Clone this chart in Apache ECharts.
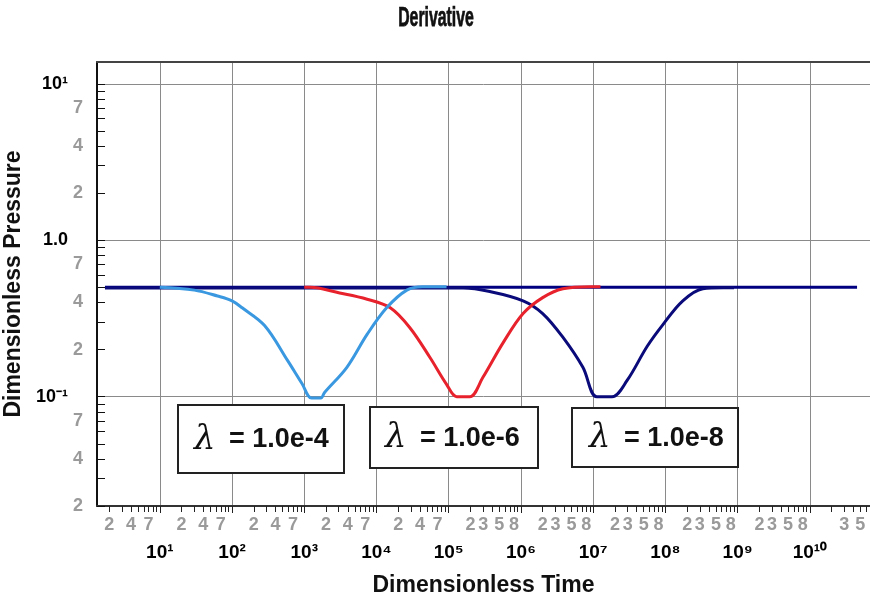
<!DOCTYPE html>
<html>
<head>
<meta charset="utf-8">
<script src="https://cdn.jsdelivr.net/npm/echarts@6/dist/echarts.min.js"></script>
<style>
html,body{margin:0;padding:0;background:#fff;}
#chart{width:870px;height:598px;}
</style>
</head>
<body>
<div id="chart"></div>
<script>
// ---- data ----
const blueT = [10, 30, 63, 100, 138, 282, 589, 933, 1260, 1700, 1900, 3890, 7410, 13800, 26300, 43600, 93300];
const blueP = [0.5, 0.48, 0.44, 0.41, 0.37, 0.285, 0.17, 0.121, 0.098, 0.098, 0.106, 0.154, 0.25, 0.37, 0.48, 0.505, 0.505];

const redT = [1000, 1200, 3090, 7410, 15500, 28800, 55000, 93300, 129000, 195000, 295000, 562000, 1.07e6, 2.0e6, 3.8e6, 9.1e6, 1.26e7];
const redP = [0.5, 0.5, 0.46, 0.42, 0.37, 0.277, 0.178, 0.12, 0.1, 0.1, 0.132, 0.22, 0.34, 0.43, 0.49, 0.505, 0.505];

const navyT = [1.74, 1.58e5, 3.7e5, 1.07e6, 2.0e6, 3.8e6, 7.2e6, 1.12e7, 1.82e7, 2.95e7, 5.6e7, 9.3e7, 1.74e8, 3.3e8, 6.3e8, 8.9e8];
const navyP = [0.495, 0.495, 0.47, 0.41, 0.34, 0.24, 0.154, 0.1, 0.1, 0.127, 0.21, 0.29, 0.41, 0.49, 0.497, 0.497];

const refT = [1.74, 4.5e10];
const refP = [0.5, 0.5];

const boxLabels = ['1.0e-4', '1.0e-6', '1.0e-8'];

// tick / label values
const xMajorTicks = [1e1, 1e2, 1e3, 1e4, 1e5, 1e6, 1e7, 1e8, 1e9, 1e10];
const xMajorLabels = ['10¹', '10²', '10³', '10⁴', '10⁵', '10⁶', '10⁷', '10⁸', '10⁹', '10¹⁰'];
const xMinorLabelValues = [2, 4, 7, 20, 40, 70, 200, 400, 700, 2e3, 4e3, 7e3, 2e4, 4e4, 7e4,
  2e5, 3e5, 5e5, 8e5, 2e6, 3e6, 5e6, 8e6, 2e7, 3e7, 5e7, 8e7, 2e8, 3e8, 5e8, 8e8,
  2e9, 3e9, 5e9, 8e9, 3e10, 5e10];
const yMajorTicks = [0.1, 1, 10];
const yMajorLabels = ['10⁻¹', '1.0', '10¹'];
const yMinorLabelValues = [0.02, 0.04, 0.07, 0.2, 0.4, 0.7, 2, 4, 7];

const xMin = 1.35, xMax = 6.8e10;
const yMin = 0.02, yMax = 13.8;

// minor tick positions (2..9 of each decade)
function minorTicks(fromExp, toExp, lo, hi) {
  const out = [];
  for (let e = fromExp; e <= toExp; e++) {
    for (let m = 1; m <= 9; m++) {
      const v = m * Math.pow(10, e);
      if (v >= lo * 0.999 && v <= hi * 1.001) out.push(v);
    }
  }
  return out;
}
const xMinorTicks = minorTicks(0, 10, xMin, xMax);
const yMinorTicks = minorTicks(-2, 1, yMin, yMax);

function mantissa(v) {
  const e = Math.floor(Math.log10(v) + 1e-9);
  return String(Math.round(v / Math.pow(10, e)));
}
function labelFor(values, labels) {
  return function (v) {
    for (let i = 0; i < values.length; i++) {
      if (Math.abs(Math.log10(v) - Math.log10(values[i])) < 1e-6) return labels[i];
    }
    return '';
  };
}
function zip(a, b) { return a.map((t, i) => [t, b[i]]); }

const FONT = "'Liberation Sans', Arial, sans-serif";
const GRID = '#8a8a8a';
const MINOR_COL = '#9a9a9a';

const chart = echarts.init(document.getElementById('chart'), null, {renderer: 'canvas'});

const boxes = [
  {x: 178, y: 405, w: 166, h: 68, tx: 194},
  {x: 370, y: 407, w: 168, h: 61, tx: 385},
  {x: 572, y: 408, w: 166, h: 59, tx: 589}
];
const graphics = [{
  type: 'text', z: 101, x: 436, y: 18, scaleX: 0.72, scaleY: 1.25,
  style: {text: 'Derivative', fill: '#111', font: 'bold 22px ' + FONT,
    textAlign: 'center', textVerticalAlign: 'middle', stroke: '#111', lineWidth: 0.6}
}];
boxes.forEach((b, i) => {
  graphics.push({
    type: 'rect', z: 100,
    shape: {x: b.x, y: b.y, width: b.w, height: b.h},
    style: {fill: '#fff', stroke: '#222', lineWidth: 2}
  });
  graphics.push({
    type: 'text', z: 101,
    x: b.tx, y: b.y + b.h / 2 + 1,
    style: {text: 'λ', fill: '#111', font: "italic 34px 'DejaVu Serif', serif", textVerticalAlign: 'middle'}
  });
  graphics.push({
    type: 'text', z: 101,
    x: b.tx + 35, y: b.y + b.h / 2 + 1,
    style: {text: '= ' + boxLabels[i], fill: '#111', font: "bold 27px " + FONT, textVerticalAlign: 'middle'}
  });
});

const lineSeries = (name, T, P, color, width, z) => ({
  name, type: 'line', data: zip(T, P), xAxisIndex: 0, yAxisIndex: 0,
  showSymbol: false, symbol: 'none', smooth: 0.35,
  lineStyle: {color, width}, z, silent: true, clip: true
});

chart.setOption({
  animation: false,
  backgroundColor: '#fff',
  grid: {left: 97, right: 0, top: 62, bottom: 92, containLabel: false, outerBoundsMode: 'none'},
  xAxis: [
    {
      type: 'log', logBase: 10, min: xMin, max: xMax, position: 'bottom', offset: 0,
      name: 'Dimensionless Time', nameLocation: 'middle', nameGap: 68,
      nameTextStyle: {fontFamily: FONT, fontWeight: 'bold', fontSize: 23, color: '#111'},
      axisLine: {show: true, onZero: false, lineStyle: {color: '#333', width: 2}},
      axisTick: {show: true, customValues: xMajorTicks, length: 7, lineStyle: {color: '#222', width: 1}},
      axisLabel: {customValues: xMajorTicks, formatter: labelFor(xMajorTicks, xMajorLabels), margin: 37,
        color: '#000', fontFamily: FONT, fontWeight: 'bold', fontSize: 19, showMinLabel: true, showMaxLabel: true},
      splitLine: {show: true, lineStyle: {color: GRID, width: 1}},
      minorTick: {show: false}, minorSplitLine: {show: false}
    },
    {
      type: 'log', logBase: 10, min: xMin, max: xMax, position: 'bottom', offset: 0,
      axisLine: {show: false, onZero: false},
      axisTick: {show: true, customValues: xMinorTicks, length: 6, lineStyle: {color: '#222', width: 1}},
      axisLabel: {customValues: xMinorLabelValues, formatter: mantissa, margin: 10,
        color: MINOR_COL, fontFamily: FONT, fontWeight: 'bold', fontSize: 18, showMinLabel: true, showMaxLabel: true},
      splitLine: {show: false}
    },
    {
      type: 'log', logBase: 10, min: xMin, max: xMax, position: 'top', offset: 0,
      axisLine: {show: true, onZero: false, lineStyle: {color: '#444', width: 2}},
      axisTick: {show: false}, axisLabel: {show: false}, splitLine: {show: false}
    }
  ],
  yAxis: [
    {
      type: 'log', logBase: 10, min: yMin, max: yMax, position: 'left', offset: 0,
      name: 'Dimensionless Pressure', nameLocation: 'middle', nameGap: 63, nameRotate: 90,
      nameTextStyle: {fontFamily: FONT, fontWeight: 'bold', fontSize: 23, color: '#111'},
      axisLine: {show: true, onZero: false, lineStyle: {color: '#111', width: 2}},
      axisTick: {show: true, inside: true, customValues: yMajorTicks, length: 8, lineStyle: {color: '#111', width: 1}},
      axisLabel: {customValues: yMajorTicks, formatter: labelFor(yMajorTicks, yMajorLabels), margin: 29,
        color: '#000', fontFamily: FONT, fontWeight: 'bold', fontSize: 18, showMinLabel: true, showMaxLabel: true},
      splitLine: {show: true, lineStyle: {color: GRID, width: 1}},
      minorTick: {show: false}, minorSplitLine: {show: false}
    },
    {
      type: 'log', logBase: 10, min: yMin, max: yMax, position: 'left', offset: 0,
      axisLine: {show: false, onZero: false},
      axisTick: {show: true, inside: true, customValues: yMinorTicks, length: 8, lineStyle: {color: '#111', width: 1}},
      axisLabel: {customValues: yMinorLabelValues, formatter: mantissa, margin: 14,
        color: MINOR_COL, fontFamily: FONT, fontWeight: 'bold', fontSize: 18, showMinLabel: true, showMaxLabel: true},
      splitLine: {show: false}
    }
  ],
  series: [
    lineSeries('ref', refT, refP, '#000080', 3, 2),
    lineSeries('λ = 1.0e-8', navyT, navyP, '#0a0a7a', 3, 3),
    lineSeries('λ = 1.0e-6', redT, redP, '#e8222c', 3, 4),
    lineSeries('λ = 1.0e-4', blueT, blueP, '#3a98e0', 3, 5)
  ],
  graphic: graphics
});
</script>
</body>
</html>
